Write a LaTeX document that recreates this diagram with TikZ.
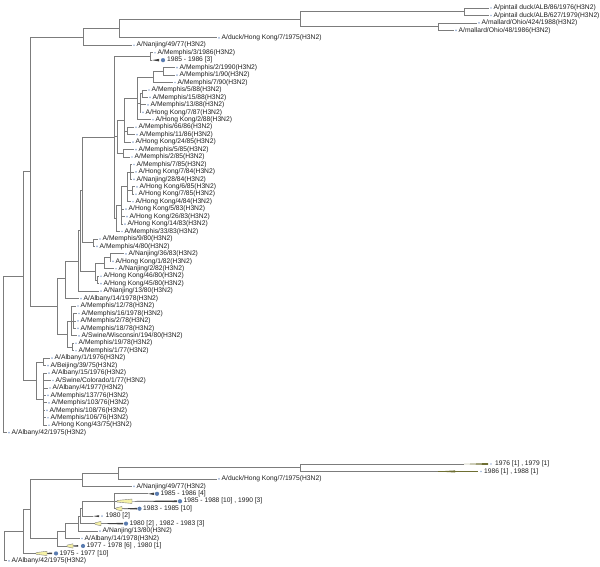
\documentclass[tikz,border=0pt]{standalone}
\usepackage{fontspec}
\setmainfont{Liberation Sans}
\definecolor{brgray}{HTML}{7C7C7C}
\definecolor{txt}{HTML}{1E1E1E}
\definecolor{sdot}{HTML}{9DB3D6}
\definecolor{bdot}{HTML}{5B7DB1}
\definecolor{wyel}{HTML}{F6F2A6}
\definecolor{oliv}{HTML}{6E6E32}
\tikzset{
 br/.style={draw=brgray, line width=0.75pt},
 lbl/.style={anchor=west, inner sep=0pt, font=\fontsize{6.7}{7}\selectfont, text=txt},
}
% leaf: name, dot x, y, text
\newcommand\lf[4]{\coordinate (#1) at ({#2-2},#3);
  \fill[sdot] (#2,#3) circle (0.95);
  \node[lbl] (#1l) at ({#2+2.5},#3) {#4};}
% collapsed clade with yellow wedge: name, node x, y, min x, max x, dot x, text
\newcommand\cl[7]{\coordinate (#1) at (#2,#3);
  \fill[darkgray] (#2,#3) -- (#5,{#3-0.8}) -- (#5,{#3+0.8}) -- cycle;
  \filldraw[fill=wyel, draw=gray, line width=0.4pt] (#2,{#3-0.8}) -- (#4,{#3-2.2}) -- (#4,{#3+2.2}) -- (#2,{#3+0.8}) -- cycle;
  \fill[bdot] (#6,#3) circle (2.1);
  \node[lbl] (#1l) at ({#6+3.5},#3) {#7};}
\newcommand\nd[3]{\coordinate (#1) at (#2,#3);}
\newcommand\ed[2]{\foreach \c in {#2} {\draw[br] (#1) |- (\c);}}
\begin{document}
\begin{tikzpicture}[x=1pt,y=-1pt]
\useasboundingbox (0,0) rectangle (600,566);
% ---------------- top tree: leaves
\lf{t1}{491}{8.0}{A/pintail duck/ALB/86/1976(H3N2)}
\lf{t2}{491}{15.45}{A/pintail duck/ALB/627/1979(H3N2)}
\lf{t3}{479}{22.9}{A/mallard/Ohio/424/1988(H3N2)}
\lf{t4}{456}{30.35}{A/mallard/Ohio/48/1986(H3N2)}
\lf{t5}{219}{37.8}{A/duck/Hong Kong/7/1975(H3N2)}
\lf{t6}{134}{45.25}{A/Nanjing/49/77(H3N2)}
\lf{t7}{155}{52.7}{A/Memphis/3/1986(H3N2)}
\coordinate (t8) at (152,60.15);
\fill[darkgray] (t8) -- (159,58.9) -- (159,61.4) -- cycle;
\fill[bdot] (163,60.15) circle (2.1);
\node[lbl] (t8l) at (167,60.15) {1985 - 1986 [3]};
\lf{t9}{177}{67.6}{A/Memphis/2/1990(H3N2)}
\lf{t10}{177}{75.05}{A/Memphis/1/90(H3N2)}
\lf{t11}{175}{82.5}{A/Memphis/7/90(H3N2)}
\lf{t12}{149}{89.95}{A/Memphis/5/88(H3N2)}
\lf{t13}{150}{97.4}{A/Memphis/15/88(H3N2)}
\lf{t14}{148}{104.85}{A/Memphis/13/88(H3N2)}
\lf{t15}{143}{112.3}{A/Hong Kong/7/87(H3N2)}
\lf{t16}{153}{119.75}{A/Hong Kong/2/88(H3N2)}
\lf{t17}{136}{127.2}{A/Memphis/66/86(H3N2)}
\lf{t18}{137}{134.65}{A/Memphis/11/86(H3N2)}
\lf{t19}{133}{142.1}{A/Hong Kong/24/85(H3N2)}
\lf{t20}{136}{149.55}{A/Memphis/5/85(H3N2)}
\lf{t21}{132}{157.0}{A/Memphis/2/85(H3N2)}
\lf{t22}{134}{164.45}{A/Memphis/7/85(H3N2)}
\lf{t23}{136}{171.9}{A/Hong Kong/7/84(H3N2)}
\lf{t24}{134}{179.35}{A/Nanjing/28/84(H3N2)}
\lf{t25}{137}{186.8}{A/Hong Kong/6/85(H3N2)}
\lf{t26}{136}{194.25}{A/Hong Kong/7/85(H3N2)}
\lf{t27}{133}{201.7}{A/Hong Kong/4/84(H3N2)}
\lf{t28}{126}{209.15}{A/Hong Kong/5/83(H3N2)}
\lf{t29}{127}{216.6}{A/Hong Kong/26/83(H3N2)}
\lf{t30}{125}{224.05}{A/Hong Kong/14/83(H3N2)}
\lf{t31}{122}{231.5}{A/Memphis/33/83(H3N2)}
\lf{t32}{100}{238.95}{A/Memphis/9/80(H3N2)}
\lf{t33}{97}{246.4}{A/Memphis/4/80(H3N2)}
\lf{t34}{126}{253.85}{A/Nanjing/36/83(H3N2)}
\lf{t35}{113}{261.3}{A/Hong Kong/1/82(H3N2)}
\lf{t36}{116}{268.75}{A/Nanjing/2/82(H3N2)}
\lf{t37}{101}{276.2}{A/Hong Kong/46/80(H3N2)}
\lf{t38}{101}{283.65}{A/Hong Kong/45/80(H3N2)}
\lf{t39}{101}{291.1}{A/Nanjing/13/80(H3N2)}
\lf{t40}{81}{298.55}{A/Albany/14/1978(H3N2)}
\lf{t41}{78}{306.0}{A/Memphis/12/78(H3N2)}
\lf{t42}{79}{313.45}{A/Memphis/16/1978(H3N2)}
\lf{t43}{78}{320.9}{A/Memphis/2/78(H3N2)}
\lf{t44}{78}{328.35}{A/Memphis/18/78(H3N2)}
\lf{t45}{79}{335.8}{A/Swine/Wisconsin/194/80(H3N2)}
\lf{t46}{76}{343.25}{A/Memphis/19/78(H3N2)}
\lf{t47}{76}{350.7}{A/Memphis/1/77(H3N2)}
\lf{t48}{52}{358.15}{A/Albany/1/1976(H3N2)}
\lf{t49}{48}{365.6}{A/Beijing/39/75(H3N2)}
\lf{t50}{49}{373.05}{A/Albany/15/1976(H3N2)}
\lf{t51}{53}{380.5}{A/Swine/Colorado/1/77(H3N2)}
\lf{t52}{50}{387.95}{A/Albany/4/1977(H3N2)}
\lf{t53}{48}{395.4}{A/Memphis/137/76(H3N2)}
\lf{t54}{49}{402.85}{A/Memphis/103/76(H3N2)}
\lf{t55}{47}{410.3}{A/Memphis/108/76(H3N2)}
\lf{t56}{48}{417.75}{A/Memphis/106/76(H3N2)}
\lf{t57}{49}{425.2}{A/Hong Kong/43/75(H3N2)}
\lf{t58}{9}{432.65}{A/Albany/42/1975(H3N2)}
% ---------------- top tree: internal nodes
\nd{pint}{464}{11.7}   \ed{pint}{t1,t2}
\nd{mall}{438}{26.6}   \ed{mall}{t3,t4}
\nd{D}{300}{19.2}      \ed{D}{pint,mall}
\nd{D2}{119}{28.5}     \ed{D2}{D,t5}
\nd{D3}{83.5}{36.9}    \ed{D3}{D2,t6}
\nd{p86}{150}{56.4}    \ed{p86}{t7,t8}
\nd{p90}{163}{71.3}    \ed{p90}{t9,t10}
\nd{g90}{153}{76.9}    \ed{g90}{p90,t11}
\nd{p88}{142.5}{93.7}  \ed{p88}{t12,t13}
\nd{g88}{140}{103.0}   \ed{g88}{p88,t14,t15}
\nd{g8890}{137}{98.3}  \ed{g8890}{g90,g88,t16}
\nd{p86b}{127}{130.9}  \ed{p86b}{t17,t18}
\nd{g86}{124}{120.2}   \ed{g86}{g8890,p86b,t19}
\nd{p85}{123}{153.3}   \ed{p85}{t20,t21}
\nd{C8590}{117}{136.75}\ed{C8590}{g86,p85}
\nd{c84a}{130}{171.9}  \ed{c84a}{t22,t23,t24}
\nd{c85hk}{132}{190.5} \ed{c85hk}{t25,t26}
\nd{c84}{127}{186.8}   \ed{c84}{c84a,c85hk,t27}
\nd{c83}{121}{205.4}   \ed{c83}{c84,t28,t29,t30}
\nd{C83}{116}{218.5}   \ed{C83}{c83,t31}
\nd{Cbig}{114}{137.5}  \ed{Cbig}{p86,C8590,C83}
\nd{p80}{93}{242.7}    \ed{p80}{t32,t33}
\nd{Q1}{82}{190.1}     \ed{Q1}{Cbig,p80}
\nd{ha}{110}{257.6}    \ed{ha}{t34,t35}
\nd{hb}{104}{263.2}    \ed{hb}{ha,t36}
\nd{hc}{97}{279.9}     \ed{hc}{t37,t38}
\nd{HK80}{95}{271.5}   \ed{HK80}{hb,hc}
\nd{Q2}{80}{230.8}     \ed{Q2}{Q1,HK80}
\nd{Q}{78}{261}        \ed{Q}{Q2,t39}
\nd{P}{65}{278.8}      \ed{P}{Q,t40}
\nd{g78s}{73}{320.9}   \ed{g78s}{t42,t43,t44}
\nd{g78a}{71}{320.9}   \ed{g78a}{t41,g78s,t45}
\nd{p78}{72}{347}      \ed{p78}{t46,t47}
\nd{G78}{67}{334}      \ed{G78}{g78a,p78}
\nd{M}{57}{306.4}      \ed{M}{P,G78}
\nd{N2}{30}{171.6}     \ed{N2}{D3,M}
\nd{pAB}{43}{361.9}    \ed{pAB}{t48,t49}
\nd{rest}{43}{399.1}   \ed{rest}{t50,t51,t52,t53,t54,t55,t56,t57}
\nd{N76}{36}{380.5}    \ed{N76}{pAB,rest}
\nd{N1}{23}{276}       \ed{N1}{N2,N76}
\nd{root}{3}{354.3}    \ed{root}{N1,t58}
% ---------------- bottom tree
\coordinate (b1) at (464,464.0);
\fill[oliv] (b1) -- (488,463.0) -- (488,465.0) -- cycle;
\fill[sdot] (491,464.0) circle (0.95);
\node[lbl] (b1l) at (495,464.0) {1976 [1] , 1979 [1]};
\coordinate (b2) at (438,471.45);
\fill[oliv] (b2) -- (455,470.4) -- (455,472.5) -- cycle;
\draw[oliv, line width=0.5pt] (b2) -- (478,471.45);
\fill[sdot] (481,471.45) circle (0.95);
\node[lbl] (b2l) at (484,471.45) {1986 [1] , 1988 [1]};
\lf{b3}{219}{478.9}{A/duck/Hong Kong/7/1975(H3N2)}
\lf{b4}{134}{486.35}{A/Nanjing/49/77(H3N2)}
\coordinate (b5) at (148,493.8);
\fill[darkgray] (b5) -- (154,492.6) -- (154,495.0) -- cycle;
\fill[bdot] (157,493.8) circle (2.1);
\node[lbl] (b5l) at (160.5,493.8) {1985 - 1986 [4]};
\cl{b6}{117}{501.25}{132}{177}{180}{1985 - 1988 [10] , 1990 [3]}
\cl{b7}{116}{508.7}{122}{137}{139.5}{1983 - 1985 [10]}
\coordinate (b8) at (93,516.15);
\fill[darkgray] (b8) -- (99,515.2) -- (99,517.1) -- cycle;
\fill[sdot] (102,516.15) circle (0.95);
\node[lbl] (b8l) at (105.5,516.15) {1980 [2]};
\cl{b9}{95}{523.6}{101}{123}{126}{1980 [2] , 1982 - 1983 [3]}
\lf{b10}{100}{531.05}{A/Nanjing/13/80(H3N2)}
\lf{b11}{82}{538.5}{A/Albany/14/1978(H3N2)}
\cl{b12}{67}{545.95}{73}{78}{83}{1977 - 1978 [6] , 1980 [1]}
\cl{b13}{36}{553.4}{47}{52}{56}{1975 - 1977 [10]}
\lf{b14}{9}{560.85}{A/Albany/42/1975(H3N2)}
\nd{bD}{300}{467.7}    \ed{bD}{b1,b2}
\nd{bD2}{118}{473.3}   \ed{bD2}{bD,b3}
\nd{bD3}{82}{479.8}    \ed{bD3}{bD2,b4}
\nd{bC}{114}{501.25}   \ed{bC}{b5,b6,b7}
\nd{bQ1}{82}{508.7}    \ed{bQ1}{bC,b8}
\nd{bQ2}{80}{516.15}   \ed{bQ2}{bQ1,b9}
\nd{bQ}{78}{523.6}     \ed{bQ}{bQ2,b10}
\nd{bP}{65}{531.05}    \ed{bP}{bQ,b11}
\nd{bM}{57}{538.5}     \ed{bM}{bP,b12}
\nd{bN2}{30}{509.15}   \ed{bN2}{bD3,bM}
\nd{bN1}{23}{531.3}    \ed{bN1}{bN2,b13}
\nd{broot}{4}{546}     \ed{broot}{bN1,b14}
\end{tikzpicture}
\end{document}
